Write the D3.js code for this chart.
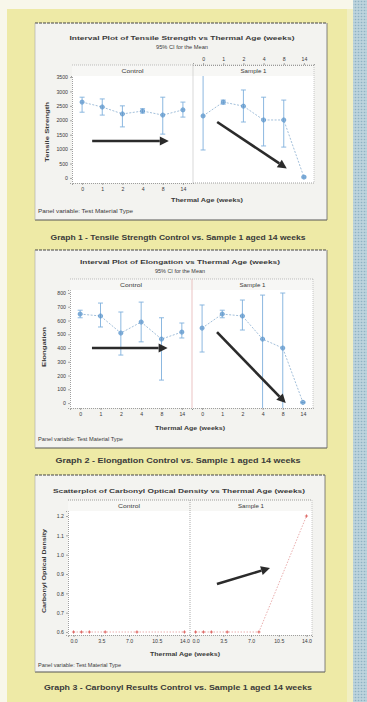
<!DOCTYPE html>
<html><head><meta charset="utf-8">
<script src="https://cdn.jsdelivr.net/npm/d3@7"></script>
<style>html,body{margin:0;padding:0;background:#f8f7ea;} svg{display:block;font-family:"Liberation Sans",Arial,sans-serif;}</style>
</head><body><svg id="c" width="367" height="702"></svg>
<script>
// ---------------- data ----------------
const weekLabels = ["0","1","2","4","8","14"];
const weekValues = [0,1,2,4,8,14];
const panelNames = ["Control","Sample 1"];

const tensileTicks = [0,500,1000,1500,2000,2500,3000,3500];
const tensileControlMean = [2630,2460,2220,2320,2180,2360];
const tensileControlLow  = [2280,2180,1770,2250,1520,2110];
const tensileControlHigh = [2800,2740,2500,2400,2800,2630];
const tensileSampleMean  = [2150,2630,2490,2010,2010,30];
const tensileSampleLow   = [970,2560,1940,1110,1070,0];
const tensileSampleHigh  = [3600,2700,3050,2800,2700,60];

const elongTicks = [0,100,200,300,400,500,600,700,800];
const elongControlMean = [647,633,509,589,465,516];
const elongControlLow  = [620,553,349,445,167,473];
const elongControlHigh = [675,727,662,734,620,582];
const elongSampleMean  = [545,647,633,465,400,5];
const elongSampleLow   = [371,620,531,-40,-40,0];
const elongSampleHigh  = [713,675,749,785,800,10];

const carbonylTicks = [0.6,0.7,0.8,0.9,1.0,1.1,1.2];
const ageTicks = [0,3.5,7,10.5,14];
const ageTickLabels = ["0.0","3.5","7.0","10.5","14.0"];
const carbonylControl = [0.6,0.6,0.6,0.6,0.6,0.6];
const carbonylSample  = [0.6,0.6,0.6,0.6,0.6,1.2];

const titles = [
  "Interval Plot of Tensile Strength vs Thermal Age (weeks)",
  "Interval Plot of Elongation vs Thermal Age (weeks)",
  "Scatterplot of Carbonyl Optical Density vs Thermal Age (weeks)"
];
const subtitle = "95% CI for the Mean";
const yTitles = ["Tensile Strength","Elongation","Carbonyl Optical Density"];
const xTitle = "Thermal Age (weeks)";
const footer = "Panel variable: Test Material Type";
const captions = [
  "Graph 1 - Tensile Strength Control vs. Sample 1 aged 14 weeks",
  "Graph 2 - Elongation Control vs. Sample 1 aged 14 weeks",
  "Graph 3 - Carbonyl Results Control vs. Sample 1 aged 14 weeks"
];

// ---------------- page ----------------
const svg = d3.select("#c");
const defs = svg.append("defs");
const pat = defs.append("pattern").attr("id","dots").attr("width",3).attr("height",3).attr("patternUnits","userSpaceOnUse");
pat.append("rect").attr("width",3).attr("height",3).attr("fill","#bcd3dc");
pat.append("circle").attr("cx",1.5).attr("cy",1.5).attr("r",0.8).attr("fill","#8fb2c3");

svg.append("rect").attr("width",367).attr("height",702).attr("fill","#f8f7ea");
svg.append("rect").attr("x",7).attr("y",9).attr("width",346).attr("height",693).attr("fill","#eeeaa6");
svg.append("rect").attr("x",347).attr("y",9).attr("width",6).attr("height",693).attr("fill","#f1efc2");
svg.append("rect").attr("x",353).attr("y",0).attr("width",14).attr("height",702).attr("fill","url(#dots)");

const TXT = "#3a3a3a";
function text(g, s, x, y, size, opts={}) {
  const t = g.append("text").attr("x",x).attr("y",y).attr("font-size",size)
    .attr("fill",opts.fill||TXT).attr("text-anchor",opts.anchor||"middle")
    .attr("font-weight",opts.bold?"bold":"normal").text(s);
  if (opts.width) t.attr("textLength",opts.width).attr("lengthAdjust","spacingAndGlyphs");
  if (opts.rotate) t.attr("transform",`rotate(-90,${x},${y})`);
  return t;
}
function box(g, x0, x1, y0, y1) {
  g.append("rect").attr("x",x0).attr("y",y0).attr("width",x1-x0).attr("height",y1-y0).attr("fill","#f3f3f0");
  g.append("line").attr("x1",x0).attr("x2",x1).attr("y1",y0).attr("y2",y0).attr("stroke","#444").attr("stroke-width",1).attr("stroke-dasharray","3,1");
  g.append("line").attr("x1",x0).attr("x2",x1).attr("y1",y1).attr("y2",y1).attr("stroke","#555").attr("stroke-width",1);
  g.append("line").attr("x1",x1).attr("x2",x1).attr("y1",y0).attr("y2",y1).attr("stroke","#666").attr("stroke-width",0.8);
  g.append("line").attr("x1",x0).attr("x2",x0).attr("y1",y0).attr("y2",y1).attr("stroke","#aaa").attr("stroke-width",0.6);
}
function arrow(g, x1, y1, x2, y2) {
  const a = Math.atan2(y2-y1, x2-x1), L = 9, W = 4.5;
  const bx = x2 - L*Math.cos(a), by = y2 - L*Math.sin(a);
  g.append("line").attr("x1",x1).attr("y1",y1).attr("x2",bx).attr("y2",by)
    .attr("stroke","#2b2b2b").attr("stroke-width",2.6);
  const pts = [[x2,y2],[bx+W*Math.sin(a), by-W*Math.cos(a)],[bx-W*Math.sin(a), by+W*Math.cos(a)]];
  g.append("polygon").attr("points",pts.map(p=>p.join(",")).join(" ")).attr("fill","#2b2b2b");
}
function styleAxis(sel){
  sel.select(".domain").attr("stroke","#888").attr("stroke-width",0.8).attr("stroke-dasharray","1,1");
  sel.selectAll(".tick line").attr("stroke","#777").attr("stroke-width",0.6);
  sel.selectAll(".tick text").attr("font-size",5.2).attr("fill",TXT).attr("font-family","Liberation Sans, Arial, sans-serif");
}

// ---------------- interval chart ----------------
function intervalChart(c) {
  const g = svg.append("g");
  box(g, c.bx0, c.bx1, c.by0, c.by1);
  const y = d3.scaleLinear().domain(c.yDomain).range([c.plotBottom, c.plotTop]).clamp(true);
  const ranges = [[c.px0, c.pmid],[c.pmid, c.px1]];
  const series = [c.control, c.sample];
  ranges.forEach((r,i) => {
    const x = d3.scalePoint().domain(weekLabels).range(r).padding(0.5);
    g.append("rect").attr("x",r[0]).attr("y",c.plotTop).attr("width",r[1]-r[0]).attr("height",c.plotBottom-c.plotTop).attr("fill","#ffffff");
    g.append("rect").attr("x",r[0]).attr("y",c.headTop).attr("width",r[1]-r[0]).attr("height",c.plotTop-c.headTop).attr("fill","#f7f7f5");
    g.append("line").attr("x1",r[0]).attr("x2",r[1]).attr("y1",c.headTop).attr("y2",c.headTop).attr("stroke","#999").attr("stroke-width",0.6).attr("stroke-dasharray","1,1");
    text(g, panelNames[i], (r[0]+r[1])/2, c.headTop+7.5, 5.2, {width: i===0?22:26});
    const s = series[i];
    const line = d3.line().x((d,j)=>x(weekLabels[j])).y(d=>y(d));
    g.append("path").attr("d", line(s.mean)).attr("fill","none").attr("stroke","#8aaed0").attr("stroke-width",0.8).attr("stroke-dasharray","2,1.5");
    weekLabels.forEach((w,j) => {
      const xx = x(w);
      g.append("line").attr("x1",xx).attr("x2",xx).attr("y1",y(s.low[j])).attr("y2",y(s.high[j])).attr("stroke","#7fb0dc").attr("stroke-width",0.9);
      [s.low[j], s.high[j]].forEach(v => {
        if (v > c.yDomain[0] && v < c.yDomain[1])
          g.append("line").attr("x1",xx-2.5).attr("x2",xx+2.5).attr("y1",y(v)).attr("y2",y(v)).attr("stroke","#7fb0dc").attr("stroke-width",0.9);
      });
      const ym = y(s.mean[j]);
      g.append("circle").attr("cx",xx).attr("cy",ym).attr("r",2.1).attr("fill","#a9cbea").attr("stroke","#5d98cf").attr("stroke-width",0.7);
      g.append("path").attr("d",`M${xx-2.1},${ym}H${xx+2.1}M${xx},${ym-2.1}V${ym+2.1}`).attr("stroke","#4b86c0").attr("stroke-width",0.6);
    });
    const onTop = c.topAxisPanels.includes(i);
    const showBottom = c.bottomAxisPanels.includes(i);
    if (showBottom) {
      const ax = g.append("g").attr("transform",`translate(0,${c.plotBottom})`).call(d3.axisBottom(x).tickSize(2).tickPadding(2));
      styleAxis(ax);
    } else {
      g.append("line").attr("x1",r[0]).attr("x2",r[1]).attr("y1",c.plotBottom).attr("y2",c.plotBottom).attr("stroke","#888").attr("stroke-width",0.8).attr("stroke-dasharray","1,1");
    }
    if (onTop) {
      const ax = g.append("g").attr("transform",`translate(0,${c.headTop})`).call(d3.axisTop(x).tickSize(2).tickPadding(2));
      styleAxis(ax);
    }
  });
  g.append("line").attr("x1",c.pmid).attr("x2",c.pmid).attr("y1",c.headTop).attr("y2",c.plotBottom).attr("stroke",c.dividerColor).attr("stroke-width",0.7);
  const ay = g.append("g").attr("transform",`translate(${c.px0},0)`).call(d3.axisLeft(y).tickValues(c.ticks).tickFormat(d3.format("d")).tickSize(2).tickPadding(2));
  styleAxis(ay);
  g.append("line").attr("x1",c.px1).attr("x2",c.px1).attr("y1",c.headTop).attr("y2",c.plotBottom).attr("stroke","#aaa").attr("stroke-width",0.6).attr("stroke-dasharray","1,1");
  text(g, c.title, c.titleX, c.titleY, 6.2, {bold:true, width:c.titleW});
  text(g, subtitle, c.titleX, c.titleY+9, 5, {width:c.subW});
  text(g, c.yTitle, c.yTitleX, c.yTitleY, 5.5, {bold:true, rotate:true, width:c.yTitleW});
  text(g, xTitle, c.xTitleX, c.xTitleY, 5.5, {bold:true, width:c.xTitleW});
  text(g, footer, c.bx0+3, c.footY, 4.8, {anchor:"start", width:c.footW});
  text(g, c.caption, 178, c.capY, 7, {bold:true, width:c.capW, fill:"#3a3a3a"});
  c.arrows.forEach(a => {
    const x = d3.scalePoint().domain(d3.range(6)).range(ranges[a.panel]).padding(0.5);
    const sx = v => x(0) + v*(x(1)-x(0));
    arrow(g, sx(a.from[0]), y(a.from[1]), sx(a.to[0]), y(a.to[1]));
  });
}

intervalChart({
  bx0:35, bx1:327, by0:23, by1:220,
  px0:72, pmid:193, px1:314, headTop:65, plotTop:76, plotBottom:183,
  yDomain:[-175,3535], ticks:tensileTicks,
  control:{mean:tensileControlMean, low:tensileControlLow, high:tensileControlHigh},
  sample:{mean:tensileSampleMean, low:tensileSampleLow, high:tensileSampleHigh},
  topAxisPanels:[1], bottomAxisPanels:[0], dividerColor:"#c9c9c9",
  title:titles[0], titleX:182, titleY:40, titleW:225, subW:52,
  yTitle:yTitles[0], yTitleX:49, yTitleY:132, yTitleW:60,
  xTitleX:207, xTitleY:202, xTitleW:72,
  footY:213, footW:95, caption:captions[0], capY:240, capW:255,
  arrows:[{panel:0, from:[0.5,1280], to:[4.3,1280]},{panel:1, from:[0.7,1940], to:[4.15,330]}]
});

intervalChart({
  bx0:35, bx1:327, by0:250, by1:448,
  px0:70, pmid:192, px1:313, headTop:279, plotTop:290, plotBottom:408,
  yDomain:[-36,822], ticks:elongTicks,
  control:{mean:elongControlMean, low:elongControlLow, high:elongControlHigh},
  sample:{mean:elongSampleMean, low:elongSampleLow, high:elongSampleHigh},
  topAxisPanels:[], bottomAxisPanels:[0,1], dividerColor:"#e2a9a9",
  title:titles[1], titleX:180, titleY:264, titleW:200, subW:50,
  yTitle:yTitles[1], yTitleX:46, yTitleY:347, yTitleW:40,
  xTitleX:190, xTitleY:430, xTitleW:70,
  footY:441, footW:85, caption:captions[1], capY:463, capW:245,
  arrows:[{panel:0, from:[0.58,400], to:[4.3,400]},{panel:1, from:[0.74,516], to:[4.15,0]}]
});

// ---------------- scatter chart ----------------
(function(){
  const g = svg.append("g");
  const bx0=35,bx1=325,by0=475,by1=672, px0=68, pmid=190, px1=312, headTop=500, plotTop=511, plotBottom=635;
  box(g,bx0,bx1,by0,by1);
  const y = d3.scaleLinear().domain([0.5845,1.226]).range([plotBottom,plotTop]);
  const ranges = [[px0,pmid],[pmid,px1]];
  const series = [carbonylControl, carbonylSample];
  ranges.forEach((r,i)=>{
    const x = d3.scaleLinear().domain([-0.7,14.7]).range(r);
    g.append("rect").attr("x",r[0]).attr("y",plotTop).attr("width",r[1]-r[0]).attr("height",plotBottom-plotTop).attr("fill","#fff");
    g.append("rect").attr("x",r[0]).attr("y",headTop).attr("width",r[1]-r[0]).attr("height",plotTop-headTop).attr("fill","#f7f7f5");
    g.append("line").attr("x1",r[0]).attr("x2",r[1]).attr("y1",headTop).attr("y2",headTop).attr("stroke","#777").attr("stroke-width",0.7).attr("stroke-dasharray","1,1");
    text(g, panelNames[i], (r[0]+r[1])/2, headTop+8, 5.2, {width: i===0?22:26});
    const s = series[i];
    const line = d3.line().x((d,j)=>x(weekValues[j])).y(d=>y(d));
    g.append("path").attr("d",line(s)).attr("fill","none").attr("stroke","#e08a8a").attr("stroke-width",0.7).attr("stroke-dasharray","1.5,1.5");
    s.forEach((v,j)=>{
      const xx=x(weekValues[j]), yy=y(v);
      g.append("path").attr("d",`M${xx-1.6},${yy}H${xx+1.6}M${xx},${yy-1.6}V${yy+1.6}`).attr("stroke","#d9534f").attr("stroke-width",0.8);
    });
    const ax = g.append("g").attr("transform",`translate(0,${plotBottom})`)
      .call(d3.axisBottom(x).tickValues(ageTicks).tickFormat((d,k)=>ageTickLabels[k]).tickSize(2).tickPadding(2));
    styleAxis(ax);
  });
  g.append("line").attr("x1",pmid).attr("x2",pmid).attr("y1",headTop).attr("y2",plotBottom).attr("stroke","#888").attr("stroke-width",0.7).attr("stroke-dasharray","1,1");
  g.append("line").attr("x1",px1).attr("x2",px1).attr("y1",headTop).attr("y2",plotBottom).attr("stroke","#aaa").attr("stroke-width",0.6).attr("stroke-dasharray","1,1");
  const ay = g.append("g").attr("transform",`translate(${px0},0)`).call(d3.axisLeft(y).tickValues(carbonylTicks).tickFormat(d3.format(".1f")).tickSize(2).tickPadding(2));
  styleAxis(ay);
  text(g, titles[2], 179, 493, 6.2, {bold:true, width:252});
  text(g, yTitles[2], 46, 571, 5.5, {bold:true, rotate:true, width:84});
  text(g, xTitle, 185, 656, 5.5, {bold:true, width:70});
  text(g, footer, bx0+3, 667, 4.8, {anchor:"start", width:83});
  text(g, captions[2], 178, 690, 7, {bold:true, width:268, fill:"#3a3a3a"});
  const xr = d3.scaleLinear().domain([-0.7,14.7]).range(ranges[1]);
  arrow(g, xr(2.7), y(0.848), xr(9.4), y(0.931));
})();
</script></body></html>
